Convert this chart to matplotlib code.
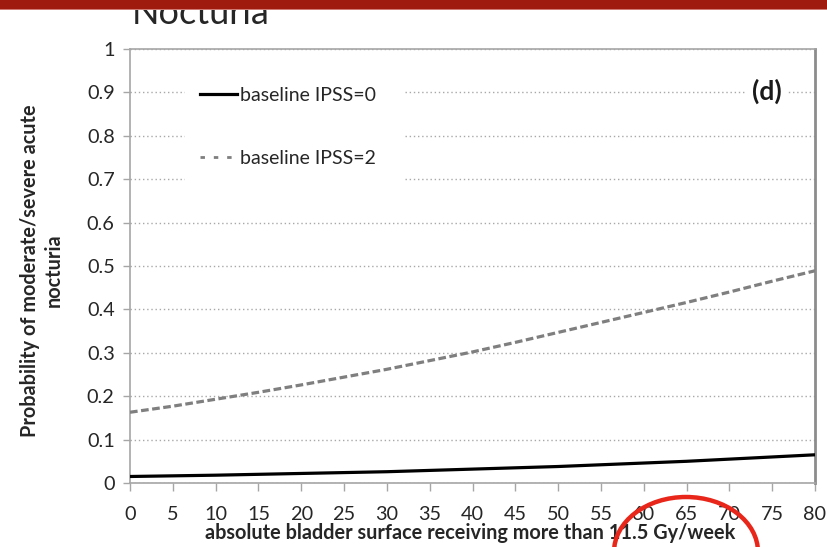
import matplotlib
matplotlib.use("Agg")
import matplotlib.pyplot as plt
from matplotlib.lines import Line2D
from matplotlib.patches import Ellipse, Rectangle

plt.rcParams['font.family'] = ['Lato', 'DejaVu Sans']

# Absolute bladder surface (cm^2) receiving more than 11.5 Gy/week
surface = [0, 5, 10, 15, 20, 25, 30, 35, 40, 45, 50, 55, 60, 65, 70, 75, 80]
# Predicted probability of moderate/severe acute nocturia
ipss0 = [0.015, 0.0165, 0.018, 0.020, 0.022, 0.024, 0.026, 0.029, 0.032,
         0.035, 0.038, 0.042, 0.046, 0.050, 0.055, 0.060, 0.065]
ipss2 = [0.163, 0.177, 0.193, 0.209, 0.226, 0.244, 0.262, 0.282, 0.302,
         0.324, 0.347, 0.370, 0.393, 0.416, 0.440, 0.465, 0.489]

series_labels = ["baseline IPSS=0", "baseline IPSS=2"]
x_ticks = list(range(0, 81, 5))
y_ticks = [0, 0.1, 0.2, 0.3, 0.4, 0.5, 0.6, 0.7, 0.8, 0.9, 1]
y_ticklabels = ["0", "0.1", "0.2", "0.3", "0.4", "0.5", "0.6", "0.7", "0.8", "0.9", "1"]

W, H = 827, 547
fig = plt.figure(figsize=(W / 100, H / 100), dpi=100)
fig.patch.set_facecolor("white")
ax = fig.add_axes([130 / W, 1 - 483 / H, 685 / W, 434 / H])

ax.plot(surface, ipss0, color="black", lw=2.3, solid_capstyle="butt", zorder=3)
ax.plot(surface, ipss2, color="#7f7f7f", lw=2.3, dashes=(2.4, 1.1), zorder=3)

ax.set_xlim(0, 80)
ax.set_ylim(0, 1)
ax.set_xticks(x_ticks)
ax.set_yticks(y_ticks)
ax.set_yticklabels(y_ticklabels)
ax.yaxis.grid(True, color="#a8a8a8", lw=1.0, linestyle=(0, (1, 2)))
ax.set_axisbelow(True)

for side in ["left", "top", "bottom"]:
    ax.spines[side].set_color("#a6a6a6")
    ax.spines[side].set_linewidth(1.2)
ax.spines["right"].set_color("#8c8c8c")
ax.spines["right"].set_linewidth(2.0)

ax.tick_params(axis="x", direction="out", length=5.5, width=1, color="#a6a6a6",
               pad=11, labelsize=14.3, labelcolor="#262626")
ax.tick_params(axis="y", direction="out", length=5, width=1, color="#a6a6a6",
               pad=6, labelsize=14.3, labelcolor="#262626")

ax.set_xlabel("absolute bladder surface receiving more than 11.5 Gy/week",
              fontsize=14.3, fontweight="bold", color="#262626")
ax.xaxis.set_label_coords(0.497, -0.092)
ax.set_ylabel("Probability of moderate/severe acute\nnocturia", fontsize=14.3,
              fontweight="bold", color="#262626", linespacing=1.25,
              multialignment="center")
ax.yaxis.set_label_coords(-0.097, 0.49)

handles = [Line2D([], [], color="black", lw=2.3),
           Line2D([], [], color="#7f7f7f", lw=2.0, dashes=(1.6, 3.2))]
leg = ax.legend(handles, series_labels, loc="upper left", mode="expand",
                bbox_to_anchor=((185 - 130) / 685, (483 - 72) / 434,
                                220 / 685, 0.0),
                fontsize=14, frameon=True, fancybox=False, framealpha=1,
                facecolor="white", edgecolor="none", handlelength=1.9,
                handletextpad=0.2, labelspacing=2.37, borderpad=0.75,
                borderaxespad=0)
for t in leg.get_texts():
    t.set_color("#262626")

ax.text(0.93, 0.902, "(d)", transform=ax.transAxes, ha="center", va="center",
        fontsize=19, fontweight="bold", color="#1a1a1a",
        bbox=dict(facecolor="white", edgecolor="none", pad=4), zorder=4)

# Slide header: title partly hidden under the red banner
fig.text(132 / W, 1 - 24 / H, "Nocturia", fontsize=26, color="#262626",
         ha="left", va="baseline", zorder=1)
fig.patches.append(Rectangle((0, 1 - 9 / H), 1, 9 / H, transform=fig.transFigure,
                             facecolor="#9e1b0e", edgecolor="none", zorder=5))
fig.patches.append(Rectangle((0, 1 - 10 / H), 1, 1 / H, transform=fig.transFigure,
                             facecolor="#cf7a72", edgecolor="none", zorder=5))

# Red hand-drawn highlight around the upper x range
fig.patches.append(Ellipse((686 / W, 1 - 552 / H), 144 / W, 110 / H,
                           transform=fig.transFigure, facecolor="none",
                           edgecolor="#e8261a", lw=3.2, zorder=6))

fig.savefig("out.png", dpi=100)
